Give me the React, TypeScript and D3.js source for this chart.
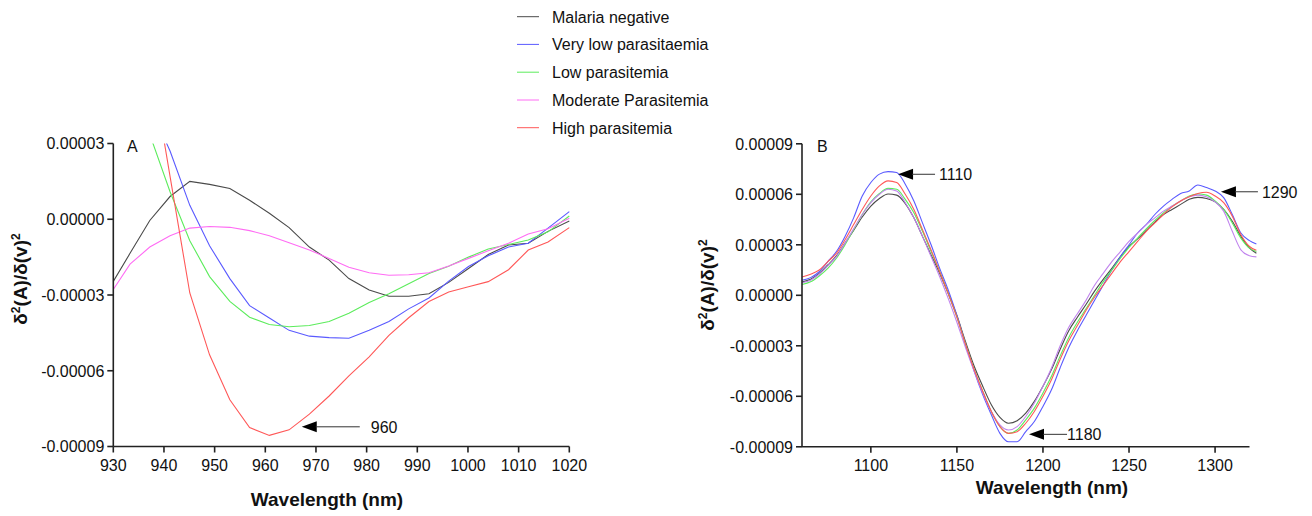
import React from 'react';
import * as d3 from 'd3';

// ---------- DATA ----------
const seriesNames = [
  'Malaria negative',
  'Very low parasitaemia',
  'Low parasitemia',
  'Moderate Parasitemia',
  'High parasitemia',
];

// Panel A (values in units of 1e-5)
const wavelengthsA = [930, 933.3, 937.2, 941.2, 945.1, 949.0, 953.0, 956.9, 960.8, 964.7, 968.7, 972.6,
  976.5, 980.5, 984.4, 988.3, 992.3, 996.2, 1000.1, 1004.0, 1008.0, 1011.9, 1015.8, 1020];
const negativeA = [-2.46, -1.35, -0.05, 0.9, 1.5, 1.38, 1.22, 0.75, 0.24, -0.33, -1.1, -1.62,
  -2.35, -2.8, -3.05, -3.05, -2.95, -2.5, -1.95, -1.4, -1.02, -0.95, -0.48, -0.07];
const veryLowA = [8, 6.3, 4.5, 2.7, 0.55, -1.05, -2.35, -3.42, -3.91, -4.4, -4.63, -4.69,
  -4.71, -4.4, -4.05, -3.55, -3.12, -2.45, -1.87, -1.45, -1.1, -0.95, -0.35, 0.3];
const lowA = [8, 6, 3.36, 1.09, -0.85, -2.27, -3.25, -3.88, -4.17, -4.26, -4.21, -4.05,
  -3.72, -3.3, -2.95, -2.55, -2.15, -1.86, -1.5, -1.18, -1.0, -0.82, -0.5, 0.13];
const moderateA = [-2.78, -1.78, -1.1, -0.65, -0.35, -0.29, -0.32, -0.45, -0.65, -0.93, -1.22, -1.55,
  -1.9, -2.12, -2.22, -2.2, -2.12, -1.85, -1.55, -1.25, -0.95, -0.58, -0.38, 0.04];
const highA = [13, 10, 6.47, 1.7, -2.92, -5.37, -7.15, -8.25, -8.56, -8.34, -7.72, -7.0,
  -6.2, -5.45, -4.6, -3.9, -3.26, -2.88, -2.67, -2.47, -2.0, -1.22, -0.9, -0.33];

// Panel B (values in units of 1e-5)
const wavelengthsB = [1060, 1065, 1070, 1075, 1080, 1085, 1090, 1095, 1100, 1105, 1110, 1115, 1120, 1125,
  1130, 1135, 1140, 1145, 1150, 1155, 1160, 1165, 1170, 1175, 1180, 1185, 1190, 1195, 1200, 1205, 1210,
  1215, 1220, 1225, 1230, 1235, 1240, 1245, 1250, 1255, 1260, 1265, 1270, 1275, 1280, 1285, 1290, 1295,
  1300, 1305, 1310, 1315, 1320, 1324];
const negativeB = [0.79, 0.95, 1.3, 1.8, 2.35, 3.1, 3.85, 4.65, 5.3, 5.75, 6.02, 5.95, 5.45, 4.6,
  3.5, 2.4, 1.3, 0.1, -1.2, -2.75, -4.2, -5.4, -6.5, -7.25, -7.6, -7.45, -7.0, -6.3, -5.4, -4.4, -3.2,
  -2.1, -1.3, -0.55, 0.25, 0.95, 1.6, 2.3, 2.9, 3.35, 3.85, 4.35, 4.8, 5.1, 5.4, 5.7, 5.82, 5.75,
  5.55, 5.1, 4.4, 3.5, 2.8, 2.5];
const veryLowB = [0.89, 1.05, 1.4, 2.0, 2.6, 3.5, 4.6, 5.9, 6.7, 7.2, 7.35, 7.3, 6.6, 5.6,
  4.3, 3.0, 1.6, 0.3, -1.2, -2.9, -4.5, -5.9, -7.1, -8.2, -8.7, -8.7, -8.1, -7.5, -6.6, -5.6, -4.3,
  -3.1, -2.1, -1.2, -0.3, 0.6, 1.5, 2.3, 3.0, 3.7, 4.2, 4.8, 5.3, 5.7, 6.05, 6.2, 6.55, 6.4,
  6.2, 5.8, 4.8, 3.7, 3.25, 3.05];
const lowB = [0.64, 0.8, 1.15, 1.6, 2.2, 3.0, 3.9, 4.8, 5.55, 6.05, 6.35, 6.3, 5.7, 4.9,
  3.8, 2.6, 1.4, 0.1, -1.3, -2.9, -4.4, -5.7, -6.9, -7.8, -8.2, -8.0, -7.4, -6.7, -5.8, -4.8, -3.6,
  -2.5, -1.6, -0.8, 0.0, 0.8, 1.5, 2.2, 2.85, 3.4, 3.95, 4.45, 4.9, 5.3, 5.6, 5.9, 6.02, 5.95,
  5.6, 5.1, 4.3, 3.4, 2.8, 2.6];
const moderateB = [0.75, 0.9, 1.25, 1.75, 2.3, 3.1, 3.95, 4.8, 5.5, 6.0, 6.3, 6.2, 5.5, 4.6,
  3.5, 2.3, 1.1, -0.2, -1.6, -3.1, -4.5, -5.8, -6.9, -7.7, -8.0, -7.8, -7.2, -6.4, -5.4, -4.3, -3.0,
  -1.9, -1.1, -0.3, 0.6, 1.3, 2.0, 2.6, 3.2, 3.7, 4.2, 4.6, 5.0, 5.3, 5.6, 5.85, 5.95, 5.85,
  5.55, 5.0, 3.8, 2.7, 2.35, 2.28];
const highB = [1.09, 1.25, 1.5, 2.0, 2.5, 3.3, 4.2, 5.1, 5.9, 6.5, 6.8, 6.7, 6.0, 5.1,
  3.9, 2.7, 1.4, 0.1, -1.3, -2.9, -4.4, -5.7, -6.9, -7.8, -8.2, -8.1, -7.6, -6.9, -6.0, -5.0, -3.8,
  -2.7, -1.8, -0.9, -0.1, 0.6, 1.3, 2.0, 2.6, 3.2, 3.8, 4.3, 4.8, 5.25, 5.6, 5.85, 6.05, 6.12,
  5.9, 5.5, 4.7, 3.6, 2.9, 2.67];

const ticksXA = [930, 940, 950, 960, 970, 980, 990, 1000, 1010, 1020];
const ticksYA = [3, 0, -3, -6, -9];
const ticksXB = [1100, 1150, 1200, 1250, 1300];
const ticksYB = [9, 6, 3, 0, -3, -6, -9];

// annotations: [label, wavelength, value(1e-5)]
const annotationsA = [{ label: '960', x: 967.2, y: -8.22 }];
const annotationsB = [
  { label: '1110', x: 1115.8, y: 7.19 },
  { label: '1180', x: 1191.9, y: -8.26 },
  { label: '1290', x: 1303.4, y: 6.15 },
];

const colorsA = ['#4a4a4a', '#5a5aff', '#5cec5c', '#ff6cf4', '#ff5858'];
const colorsB = ['#4a4a4a', '#5a5aff', '#5cec5c', '#c184ee', '#ff5858'];

// ---------- CHART ----------
const FONT = '"Liberation Sans", Arial, Helvetica, sans-serif';
const fmt = (v: number) => (v * 1e-5).toFixed(5);

function Axes({ x, y, xTicks, yTicks, titleX, titleY, titleYX, titleYY, xTitleBaseline }: any) {
  const [x0, x1] = x.range();
  const [yb, yt] = y.range();
  return (
    <g fontFamily={FONT} fill="#111">
      <line x1={x0} x2={x1} y1={yb} y2={yb} stroke="#222" strokeWidth={1.6} />
      <line x1={x0} x2={x0} y1={yb} y2={yt} stroke="#222" strokeWidth={1.6} />
      {xTicks.map((t: number) => (
        <g key={'x' + t}>
          <line x1={x(t)} x2={x(t)} y1={yb} y2={yb + 6} stroke="#222" strokeWidth={1.6} />
          <text x={x(t)} y={yb + 24.5} textAnchor="middle" fontSize={16}>{t}</text>
        </g>
      ))}
      {yTicks.map((t: number) => (
        <g key={'y' + t}>
          <line x1={x0 - 6} x2={x0} y1={y(t)} y2={y(t)} stroke="#222" strokeWidth={1.6} />
          <text x={x0 - 9} y={y(t) + 5.8} textAnchor="end" fontSize={16}>{fmt(t)}</text>
        </g>
      ))}
      <text x={titleX} y={xTitleBaseline} textAnchor="middle" fontSize={19} fontWeight="bold">Wavelength (nm)</text>
      <text transform={`translate(${titleYX},${titleYY}) rotate(-90)`} textAnchor="middle" fontSize={19} fontWeight="bold">
        δ<tspan dy={-7} fontSize={12}>2</tspan><tspan dy={7}>(A)/δ(v)</tspan><tspan dy={-7} fontSize={12}>2</tspan>
      </text>
    </g>
  );
}

function Arrow({ tx, ty, label, lineEnd, textX }: any) {
  return (
    <g fontFamily={FONT}>
      <path d={`M${tx},${ty} L${tx + 15},${ty - 5.5} L${tx + 15},${ty + 5.5} Z`} fill="#000" />
      <line x1={tx + 14} x2={lineEnd} y1={ty} y2={ty} stroke="#333" strokeWidth={1} />
      <text x={textX} y={ty + 5.8} fontSize={16} fill="#111">{label}</text>
    </g>
  );
}

export default function App() {
  const xA = d3.scaleLinear().domain([930, 1020]).range([113.3, 569.3]);
  const yA = d3.scaleLinear().domain([-9, 3]).range([446.5, 143.5]);
  const xB = d3.scaleLinear().domain([1060, 1320]).range([802, 1249.5]);
  const yB = d3.scaleLinear().domain([-9, 9]).range([446.8, 143.8]);

  const seriesA = [negativeA, veryLowA, lowA, moderateA, highA];
  const seriesB = [negativeB, veryLowB, lowB, moderateB, highB];

  const lineA = (vals: number[]) =>
    d3.line<number>().x((_, i) => xA(wavelengthsA[i])).y((d) => yA(d))(vals) || '';
  const lineB = (vals: number[]) =>
    d3.line<number>().curve(d3.curveMonotoneX).x((_, i) => xB(wavelengthsB[i])).y((d) => yB(d))(vals) || '';

  const legendY = [16.7, 44.4, 72.2, 100, 127.7];

  return (
    <svg width={1312} height={516} style={{ position: 'absolute', left: 0, top: 0, background: '#fff' }}>
      <defs>
        <clipPath id="clipA">
          <rect x={xA(930)} y={yA(3)} width={xA(1020) - xA(930) + 1} height={yA(-9) - yA(3)} />
        </clipPath>
      </defs>

      {/* Legend */}
      <g fontFamily={FONT}>
        {seriesNames.map((n, i) => (
          <g key={n}>
            <line x1={517} x2={539} y1={legendY[i]} y2={legendY[i]} stroke={colorsA[i]} strokeWidth={1} />
            <text x={552} y={legendY[i] + 5.8} fontSize={16} fill="#111">{n}</text>
          </g>
        ))}
      </g>

      {/* Panel A */}
      <g clipPath="url(#clipA)">
        {seriesA.map((s, i) => (
          <path key={i} d={lineA(s)} fill="none" stroke={colorsA[i]} strokeWidth={1.1} />
        ))}
      </g>
      <Axes x={xA} y={yA} xTicks={ticksXA} yTicks={ticksYA} titleX={327} xTitleBaseline={506}
        titleYX={27} titleYY={279} />
      <text x={127} y={151.5} fontSize={16} fontFamily={FONT} fill="#111">A</text>
      {annotationsA.map((a) => (
        <Arrow key={a.label} tx={xA(a.x)} ty={yA(a.y)} label={a.label} lineEnd={xA(a.x) + 58} textX={xA(a.x) + 69} />
      ))}

      {/* Panel B */}
      <g>
        {seriesB.map((s, i) => (
          <path key={i} d={lineB(s)} fill="none" stroke={colorsB[i]} strokeWidth={1.1} />
        ))}
      </g>
      <Axes x={xB} y={yB} xTicks={ticksXB} yTicks={ticksYB} titleX={1052} xTitleBaseline={494}
        titleYX={714} titleYY={285} />
      <text x={817} y={151.5} fontSize={16} fontFamily={FONT} fill="#111">B</text>
      {annotationsB.map((a) => (
        <Arrow key={a.label} tx={xB(a.x)} ty={yB(a.y)} label={a.label}
          lineEnd={xB(a.x) + (a.label === '1180' ? 38 : 37)} textX={xB(a.x) + (a.label === '1180' ? 38 : 41)} />
      ))}
    </svg>
  );
}
